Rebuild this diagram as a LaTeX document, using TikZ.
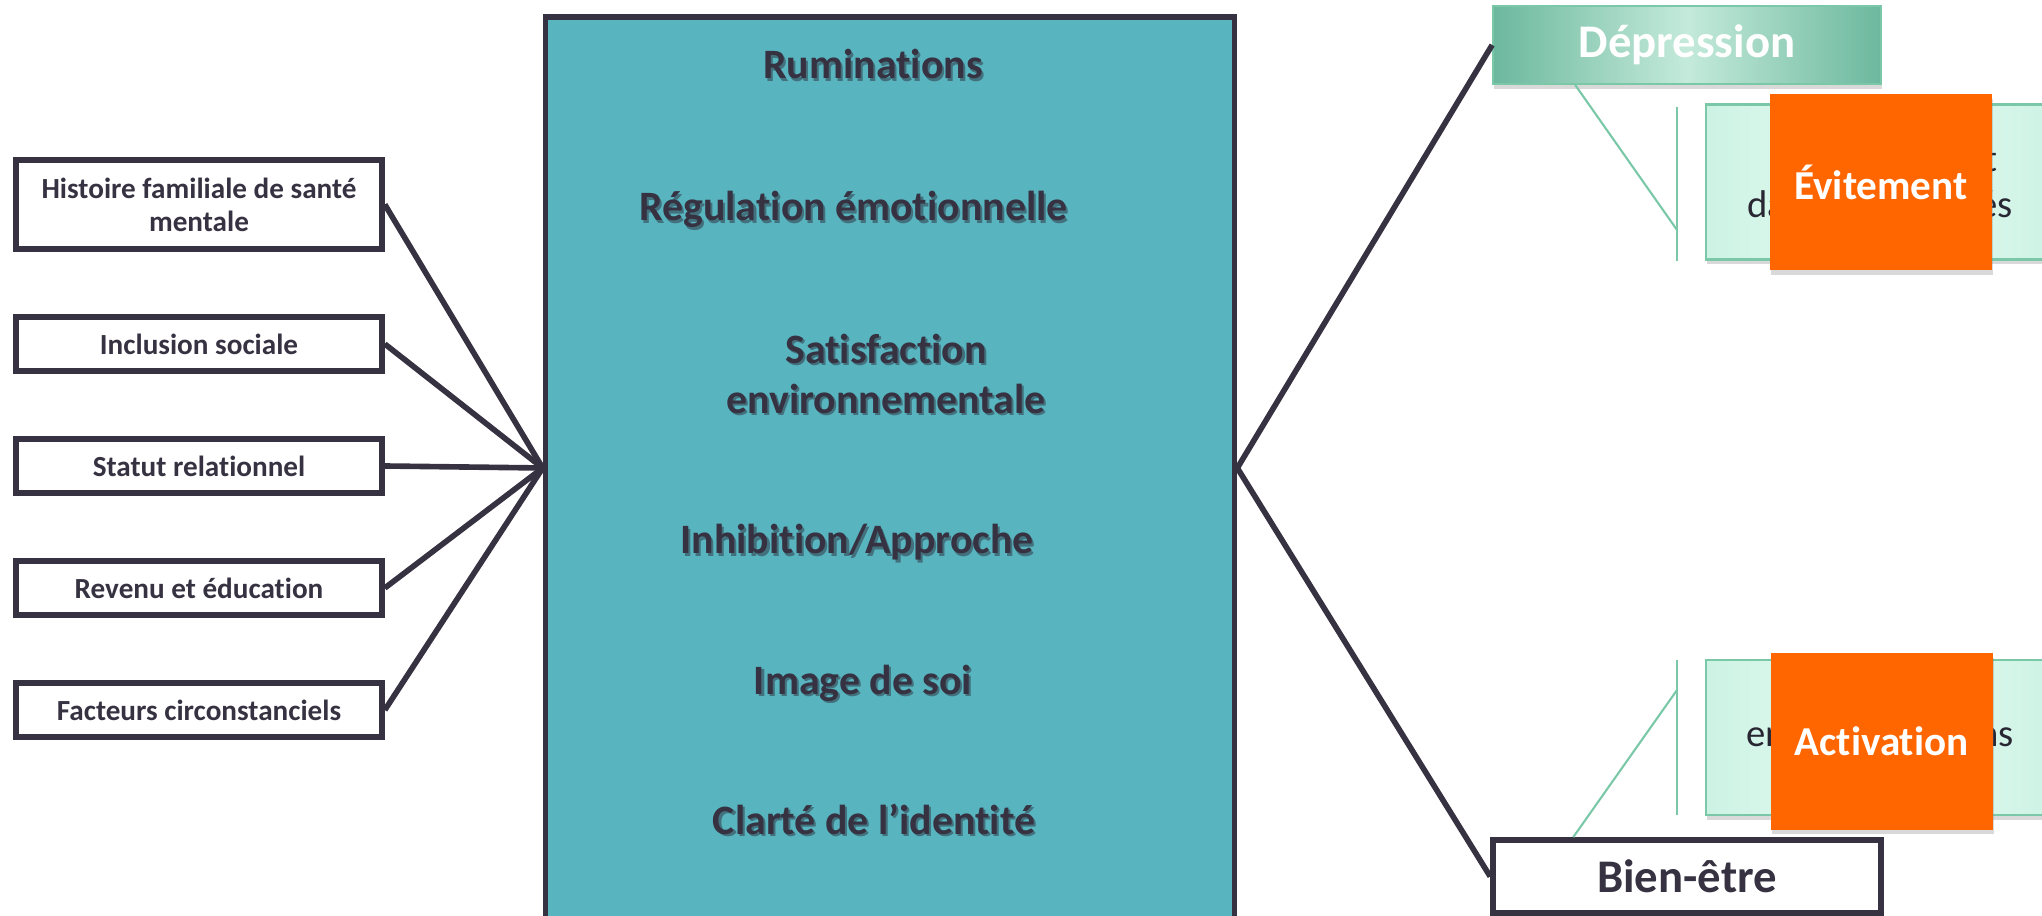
\documentclass[tikz,border=0pt]{standalone}
\usepackage{fontspec}
\setmainfont{Carlito}[Ligatures=NoCommon]
\usepackage{tikz}
\usetikzlibrary{calc, positioning, shadows}

\definecolor{encre}{RGB}{54,50,65}
\definecolor{sarcelle}{RGB}{88,181,192}
\definecolor{ombre}{RGB}{66,112,124}
\definecolor{orangevif}{RGB}{255,102,0}
\definecolor{vertfonce}{RGB}{108,184,158}
\definecolor{vertclair}{RGB}{196,234,219}
\definecolor{menthe}{RGB}{204,243,228}
\definecolor{mentheclair}{RGB}{234,251,245}
\definecolor{vertfilet}{RGB}{122,200,168}
\definecolor{texte}{RGB}{40,38,50}

% texte avec ombre portee
\newcommand{\ombrage}[1]{\leavevmode\rlap{\kern0.6pt\raisebox{-0.6pt}{\textcolor{ombre}{#1}}}#1}

\begin{document}
\begin{tikzpicture}[
		x=1cm, y=-1cm,
		facteur/.style={rectangle, draw=encre, line width=1.6pt, fill=white, text=encre, align=center, font=\fontsize{8.3}{9.4}\selectfont\bfseries, minimum width=3.66cm, minimum height=0.54cm, inner sep=0pt},
		noyau/.style={rectangle, draw=encre, line width=1.6pt, fill=sarcelle, minimum width=6.89cm, minimum height=9.02cm},
		theme/.style={text=encre, font=\fontsize{11.9}{14.4}\selectfont\bfseries, inner sep=0pt},
		issue/.style={rectangle, minimum width=3.88cm, inner sep=0pt, font=\fontsize{13.3}{16}\selectfont\bfseries},
		detail/.style={rectangle, draw=vertfilet, line width=0.6pt, left color=menthe, right color=menthe, middle color=mentheclair, text=texte, align=center, font=\fontsize{11}{13.1}\selectfont, minimum width=3.48cm, minimum height=1.55cm, inner sep=0pt, drop shadow={opacity=0.3, shadow xshift=0.4pt, shadow yshift=-1.4pt}},
		pastille/.style={rectangle, fill=orangevif, text=white, font=\fontsize{11.7}{14}\selectfont\bfseries, minimum width=2.22cm, minimum height=1.76cm, inner sep=0pt, drop shadow={opacity=0.3, shadow xshift=0.4pt, shadow yshift=-1.4pt}},
		lien/.style={draw=encre, line width=1.6pt},
		accolade/.style={draw=vertfilet, line width=0.6pt}
		]
		
		\useasboundingbox (0,0) rectangle (20.42,9.16);
		
		% Les facteurs
		\node[facteur, minimum height=0.89cm] (f1) at (1.99, 2.045) {Histoire familiale de santé\\mentale};
		\node[facteur] (f2) at (1.99, 3.44) {Inclusion sociale};
		\node[facteur] (f3) at (1.99, 4.66) {Statut relationnel};
		\node[facteur] (f4) at (1.99, 5.88) {Revenu et éducation};
		\node[facteur] (f5) at (1.99, 7.10) {Facteurs circonstanciels};
		
		% Le bloc central
		\node[noyau] (noyau) at (8.90, 4.68) {};
		\node[theme, anchor=base] (rum) at (8.73, 0.79) {\ombrage{Ruminations}};
		\node[theme, anchor=base] (reg) at (8.535, 2.21) {\ombrage{Régulation émotionnelle}};
		\node[theme, align=center] (sat) at (8.86, 3.75) {\ombrage{Satisfaction}\\\ombrage{environnementale}};
		\node[theme, anchor=base] (inh) at (8.57, 5.54) {\ombrage{Inhibition/Approche}};
		\node[theme, anchor=base] (img) at (8.63, 6.94) {\ombrage{Image de soi}};
		\node[theme, anchor=base] (cla) at (8.74, 8.34) {\ombrage{Clarté de l’identité}};
		
		% Les issues
		\node[issue, draw=vertfilet, line width=0.5pt, left color=vertfonce, right color=vertfonce, middle color=vertclair, text=white, minimum height=0.78cm, drop shadow={opacity=0.3, shadow xshift=0.4pt, shadow yshift=-1.4pt}] (dep) at (16.87, 0.45) {Dépression};
		\node[issue, draw=encre, line width=1.6pt, fill=white, text=encre, minimum height=0.73cm] (bien) at (16.87, 8.765) {Bien-être};
		
		% Les details
		\node[detail] (det1) at (18.80, 1.82) {\makebox[2.35cm]{\hfill t}\\\makebox[2.65cm]{da\hfill és}};
		\node[detail] (det2) at (18.80, 7.375) {\makebox[2.67cm]{en\hfill ns}};
		\node[pastille] (evi) at (18.81, 1.82) {Évitement};
		\node[pastille] (act) at (18.815, 7.415) {Activation};
		
		% Les accolades
		\coordinate (coin1) at (16.77, 2.30);
		\coordinate (haut1) at (16.77, 1.07);
		\coordinate (bas1) at (16.77, 2.61);
		\coordinate (coin2) at (16.77, 6.90);
		\coordinate (haut2) at (16.77, 6.60);
		\coordinate (bas2) at (16.77, 8.15);
		\draw[accolade] ([xshift=0.83cm]dep.south west) -- (coin1);
		\draw[accolade] (haut1) -- (bas1);
		\draw[accolade] ([xshift=0.83cm]bien.north west) -- (coin2);
		\draw[accolade] (haut2) -- (bas2);
		
		% Les liens
		\draw[lien] (f1.east) -- (noyau.west);
		\draw[lien] (f2.east) -- (noyau.west);
		\draw[lien] (f3.east) -- (noyau.west);
		\draw[lien] (f4.east) -- (noyau.west);
		\draw[lien] (f5.east) -- (noyau.west);
		\draw[lien] (noyau.east) -- (dep.west);
		\draw[lien] (noyau.east) -- (bien.west);
	\end{tikzpicture}
\end{document}
